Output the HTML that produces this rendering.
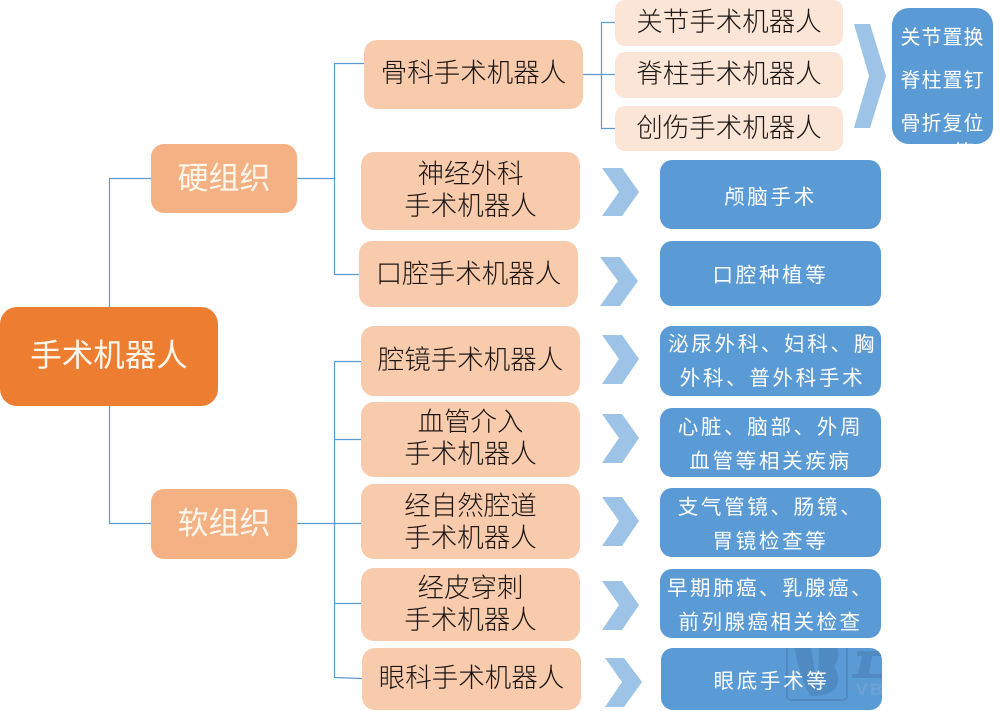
<!DOCTYPE html>
<html lang="zh">
<head>
<meta charset="utf-8">
<style>
html,body{margin:0;padding:0;background:#fff}
#c{position:relative;width:994px;height:711px;overflow:hidden;background:#fff;font-family:"Liberation Sans","Noto Sans CJK SC",sans-serif}
.b{position:absolute;display:flex;align-items:center;justify-content:center;text-align:center;box-sizing:border-box;overflow:hidden;white-space:nowrap}
.o{background:#F8CBAD;color:#1c1512;font-size:26.5px;line-height:32px;border-radius:13px;font-weight:300}
.l{background:#FBE5D6;color:#1c1512;font-size:26.5px;border-radius:10px;font-weight:300}
.m{background:#F4B183;color:#FFF6EC;font-size:31px;border-radius:13px;font-weight:400}
.u{background:#5B9BD5;color:#fff;font-size:20.5px;letter-spacing:2.7px;line-height:34px;border-radius:12px;font-weight:400}
svg{position:absolute;left:0;top:0}
</style>
</head>
<body>
<div id="c">
<svg width="994" height="711" viewBox="0 0 994 711">
<g fill="none" stroke="#5B9BD5" stroke-width="1.2">
<path d="M109.500 307V178.500H151M109.500 406V523.500H151"/>
<path d="M297 178.500H334M334.500 63.500V274.500M334 63.500H364M334 274.500H359"/>
<path d="M297 523.500H361M334.500 361.500V678M334 361.500H361M334 439.500H361M334 603.500H361M334 677.500L362 678.500"/>
<path d="M583 74.500H615M601.500 22.500V128.500M601 22.500H619M601 128.500H621"/>
</g>
<g fill="#9DC3E6">
<polygon points="854,24 870,24 886,76 870,128 854,128 869,76"/>
<polygon points="602,168 622,168 639,192 622,216 602,216 619,192"/>
<polygon points="600,257 620,257 638,281 620,306 600,306 618,281"/>
<polygon points="602,335 622,335 639,359 622,384 602,384 619,359"/>
<polygon points="602,414 622,414 639,438 622,463 602,463 619,438"/>
<polygon points="602,497 622,497 639,521 622,546 602,546 619,521"/>
<polygon points="602,581 622,581 639,605 622,630 602,630 619,605"/>
<polygon points="605,658 624,658 642,682 624,707 605,707 622,682"/>
</g>
</svg>

<div class="b" style="left:0;top:307px;width:218px;height:99px;padding-bottom:7px;background:#ED7D31;color:#FFF6EC;font-size:31.500px;border-radius:17px;font-weight:400">手术机器人</div>
<div class="b m" style="left:151px;top:144px;width:146px;height:69px;padding-bottom:7px">硬组织</div>
<div class="b m" style="left:151px;top:489px;width:146px;height:70px;padding-bottom:7px">软组织</div>

<div class="b o" style="left:364px;top:40px;width:219px;height:69px;padding-bottom:3px">骨科手术机器人</div>
<div class="b o" style="left:361px;top:152px;width:219px;height:78px;padding-bottom:2px">神经外科<br>手术机器人</div>
<div class="b o" style="left:359px;top:241px;width:219px;height:66px">口腔手术机器人</div>
<div class="b o" style="left:361px;top:326px;width:219px;height:70px;padding-bottom:2px">腔镜手术机器人</div>
<div class="b o" style="left:361px;top:402px;width:219px;height:75px;padding-bottom:4px">血管介入<br>手术机器人</div>
<div class="b o" style="left:361px;top:484px;width:219px;height:75px">经自然腔道<br>手术机器人</div>
<div class="b o" style="left:361px;top:568px;width:219px;height:73px;padding-bottom:2px">经皮穿刺<br>手术机器人</div>
<div class="b o" style="left:362px;top:648px;width:219px;height:62px;padding-bottom:2px">眼科手术机器人</div>

<div class="b l" style="left:615px;top:0;width:228px;height:46px;padding-bottom:7px">关节手术机器人</div>
<div class="b l" style="left:615px;top:52px;width:228px;height:46px;padding-bottom:7px">脊柱手术机器人</div>
<div class="b l" style="left:615px;top:106px;width:228px;height:45px;padding-bottom:6px">创伤手术机器人</div>

<div class="u" style="position:absolute;left:892px;top:8px;width:101px;height:136px;border-radius:17px;overflow:hidden;text-align:center;line-height:43px;padding-top:9px;box-sizing:border-box;white-space:nowrap;font-size:20px;letter-spacing:1px">关节置换<br>脊柱置钉<br>骨折复位<span style="position:absolute;left:62px;top:132px;line-height:26px">等</span></div>
<div class="b u" style="left:660px;top:160px;width:221px;height:69px;padding-top:6px">颅脑手术</div>
<div class="b u" style="left:660px;top:241px;width:221px;height:65px;padding-top:4px">口腔种植等</div>
<div class="b u" style="left:660px;top:326px;width:221px;height:70px;padding-top:2px;padding-left:4px">泌尿外科、妇科、胸<br>外科、普外科手术</div>
<div class="b u" style="left:660px;top:408px;width:221px;height:69px;padding-top:4px">心脏、脑部、外周<br>血管等相关疾病</div>
<div class="b u" style="left:660px;top:488px;width:221px;height:69px;padding-top:4px">支气管镜、肠镜、<br>胃镜检查等</div>
<div class="b u" style="left:660px;top:569px;width:221px;height:69px;padding-top:5px;letter-spacing:2.5px">早期肺癌、乳腺癌、<br>前列腺癌相关检查</div>
<div class="b u" style="left:661px;top:648px;width:221px;height:62px;padding-top:6px">
<svg width="221" height="62" viewBox="0 0 221 62">
<rect x="126" y="-6" width="60" height="58" rx="4" fill="none" stroke="#5089C0" stroke-width="2"/>
<path d="M133 -2H150L155 32H157L158 -2H176Q180 10 173 18Q179 26 176 38Q170 48 150 48Q140 34 133 -2Z" fill="#4F8AC2"/>
<path d="M196 3H221V8H211L208 26H221V30H191V26H197L201 8H196Z" fill="#4F8AC2"/>
<text x="195" y="47" font-family="Liberation Sans" font-size="17" font-weight="bold" fill="#6FA3D5">VB</text>
</svg>
<span style="position:relative;letter-spacing:2.7px">眼底手术等</span>
</div>
</div>
</body>
</html>
